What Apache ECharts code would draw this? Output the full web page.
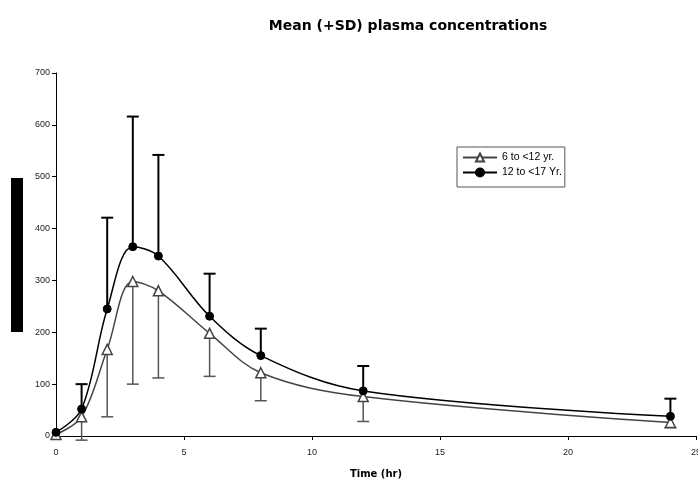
<!DOCTYPE html>
<html><head><meta charset="utf-8">
<script src="https://cdn.jsdelivr.net/npm/echarts@6/dist/echarts.min.js"></script>
<style>html,body{margin:0;padding:0;background:#fff}#c{width:698px;height:480px}</style>
</head><body><div id="c"></div>
<script>
const times = [0, 1, 2, 3, 4, 6, 8, 12, 24];
const meanYoung = [3, 37, 167, 298, 280, 198, 122, 76, 26];
const lowerYoung = [null, -8, 37, 100, 112, 115, 68, 28, 16];
const meanOld = [7, 52, 245, 365, 347, 231, 155, 87, 38];
const upperOld = [null, 100, 421, 616, 542, 313, 207, 135, 72];
const seriesNames = ['6 to <12 yr.', '12 to <17 Yr.'];
const xTicks = [0, 5, 10, 15, 20, 25];
const yTicks = [0, 100, 200, 300, 400, 500, 600, 700];

const font = 'Liberation Sans, Arial, sans-serif';
const wideFont = 'DejaVu Sans, sans-serif';
function pairs(m) { return times.map((t, i) => [t, m[i]]); }
function barData(m, e) {
  const out = [];
  times.forEach((t, i) => { if (e[i] !== null) out.push([t, m[i], e[i]]); });
  return out;
}
function errRender(color, width) {
  return function (params, api) {
    const p0 = api.coord([api.value(0), api.value(1)]);
    const p1 = api.coord([api.value(0), api.value(2)]);
    const hw = 6;
    return {
      type: 'group',
      children: [
        { type: 'line', shape: { x1: p0[0], y1: p0[1], x2: p1[0], y2: p1[1] }, style: { stroke: color, lineWidth: width } },
        { type: 'line', shape: { x1: p1[0] - hw, y1: p1[1], x2: p1[0] + hw, y2: p1[1] }, style: { stroke: color, lineWidth: width } }
      ]
    };
  };
}
const chart = echarts.init(document.getElementById('c'), null, { renderer: 'canvas' });
chart.setOption({
  backgroundColor: '#fff',
  animation: false,
  title: {
    text: 'Mean (+SD) plasma concentrations',
    left: 403, top: 14, textAlign: 'center',
    textStyle: { fontFamily: wideFont, fontSize: 14, fontWeight: 'bold', color: '#000' }
  },
  graphic: [{ type: 'rect', shape: { x: 11, y: 178, width: 12, height: 154 }, style: { fill: '#000' } }],
  legend: {
    orient: 'vertical', left: 457, top: 147,
    borderColor: '#555', borderWidth: 1, padding: [5, 3, 9, 5], itemGap: 4,
    itemWidth: 34, itemHeight: 10,
    textStyle: { fontFamily: font, fontSize: 10.5, color: '#000' },
    data: seriesNames
  },
  grid: { left: 56, right: 2, top: 73, bottom: 44, outerBoundsMode: 'none', containLabel: false },
  xAxis: {
    type: 'value', min: 0, max: 25, interval: 5,
    name: 'Time (hr)', nameLocation: 'middle', nameGap: 33,
    nameTextStyle: { fontFamily: wideFont, fontSize: 10, fontWeight: 'bold', color: '#000' },
    axisLine: { lineStyle: { color: '#000', width: 1 } },
    axisTick: { show: true, length: 4, lineStyle: { color: '#000' } },
    axisLabel: { fontFamily: font, fontSize: 9, color: '#222', margin: 12,
      formatter: v => xTicks.includes(v) ? String(v) : '' },
    splitLine: { show: false }
  },
  yAxis: {
    type: 'value', min: 0, max: 700, interval: 100,
    axisLine: { show: true, lineStyle: { color: '#000', width: 1 } },
    axisTick: { show: true, length: 4, lineStyle: { color: '#000' } },
    axisLabel: { fontFamily: font, fontSize: 9, color: '#222', margin: 6,
      formatter: v => yTicks.includes(v) ? String(v) : '' },
    splitLine: { show: false }
  },
  series: [
    {
      type: 'custom', name: 'errYoung', clip: false, z: 2, silent: true,
      renderItem: errRender('#555', 1.5),
      data: barData(meanYoung, lowerYoung), encode: { x: 0, y: [1, 2] }
    },
    {
      type: 'custom', name: 'errOld', clip: false, z: 2, silent: true,
      renderItem: errRender('#000', 2),
      data: barData(meanOld, upperOld), encode: { x: 0, y: [1, 2] }
    },
    {
      type: 'line', name: seriesNames[0], data: pairs(meanYoung), smooth: 0.35, z: 3,
      symbol: 'triangle', symbolSize: 10, showAllSymbol: true,
      lineStyle: { color: '#444', width: 1.5 },
      itemStyle: { color: '#fff', borderColor: '#444', borderWidth: 1.5 }
    },
    {
      type: 'line', name: seriesNames[1], data: pairs(meanOld), smooth: 0.35, z: 4,
      symbol: 'circle', symbolSize: 8, showAllSymbol: true,
      lineStyle: { color: '#000', width: 1.5 },
      itemStyle: { color: '#000', borderColor: '#000', borderWidth: 1 }
    }
  ]
});
</script></body></html>
